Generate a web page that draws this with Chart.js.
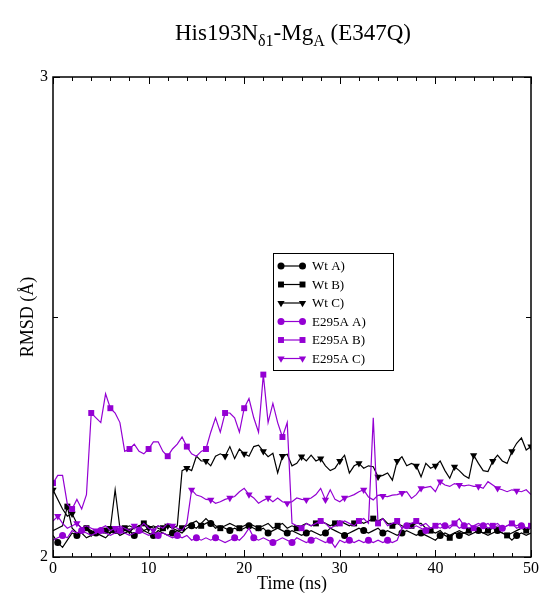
<!DOCTYPE html>
<html>
<head>
<meta charset="utf-8">
<script src="https://cdn.jsdelivr.net/npm/chart.js@4/dist/chart.umd.min.js"></script>
<style>
  html, body { margin: 0; padding: 0; background: #fff; }
  #wrap { position: relative; width: 541px; height: 595px; }
  #title { position: absolute; left: 53px; width: 480px; top: 20px; text-align: center;
           font-family: "Liberation Serif", "Times New Roman", serif; font-size: 23px; color: #000; }
  #title sub { font-size: 16px; vertical-align: -6px; line-height: 0; }
  canvas { position: absolute; left: 0; top: 0; }
</style>
</head>
<body>
<div id="wrap">
  <canvas id="c" width="541" height="595"></canvas>
  <div id="title">His193N<sub>δ1</sub>-Mg<sub>A</sub> (E347Q)</div>
</div>
<script>
// sampling grid (ns)
const STEP = 0.5;
const time = Array.from({length: 101}, (_, i) => i * STEP);

const seriesLabels = ["Wt A)", "Wt B)", "Wt C)", "E295A A)", "E295A B)", "E295A C)"];

const wtA = [2.045,2.03,2.02,2.035,2.05,2.045,2.05,2.04,2.045,2.05,
  2.045,2.04,2.05,2.055,2.045,2.05,2.055,2.045,2.05,2.055,
  2.05,2.045,2.055,2.05,2.045,2.05,2.055,2.05,2.06,2.065,
  2.06,2.07,2.08,2.07,2.06,2.065,2.06,2.055,2.06,2.055,
  2.06,2.065,2.06,2.055,2.06,2.05,2.055,2.06,2.055,2.05,
  2.055,2.05,2.045,2.05,2.055,2.05,2.045,2.05,2.06,2.055,
  2.05,2.045,2.05,2.055,2.06,2.055,2.05,2.055,2.06,2.05,
  2.055,2.05,2.045,2.05,2.055,2.05,2.045,2.05,2.045,2.04,
  2.035,2.045,2.05,2.045,2.05,2.045,2.05,2.045,2.05,2.055,
  2.05,2.045,2.05,2.055,2.05,2.045,2.035,2.045,2.05,2.045,2.05];

const wtB = [2.055,2.06,2.065,2.105,2.06,2.05,2.055,2.06,2.055,2.05,
  2.06,2.055,2.05,2.06,2.055,2.06,2.065,2.06,2.065,2.07,
  2.065,2.06,2.065,2.06,2.065,2.06,2.055,2.06,2.065,2.07,
  2.075,2.065,2.07,2.075,2.065,2.06,2.065,2.07,2.065,2.06,
  2.065,2.07,2.065,2.06,2.065,2.07,2.06,2.065,2.07,2.06,
  2.065,2.06,2.065,2.07,2.065,2.07,2.075,2.07,2.065,2.07,
  2.075,2.07,2.065,2.07,2.075,2.07,2.075,2.08,2.075,2.08,
  2.07,2.065,2.07,2.065,2.06,2.065,2.07,2.07,2.06,2.055,
  2.05,2.055,2.045,2.04,2.05,2.055,2.05,2.055,2.06,2.055,
  2.05,2.055,2.06,2.055,2.05,2.045,2.05,2.055,2.06,2.055,2.06];

const wtC = [2.14,2.12,2.10,2.085,2.09,2.07,2.06,2.065,2.05,2.055,
  2.06,2.05,2.06,2.14,2.06,2.05,2.055,2.06,2.065,2.055,
  2.06,2.065,2.06,2.055,2.065,2.06,2.065,2.18,2.185,2.18,
  2.21,2.20,2.20,2.19,2.21,2.215,2.21,2.23,2.205,2.225,
  2.215,2.21,2.23,2.233,2.22,2.209,2.216,2.175,2.21,2.214,
  2.19,2.195,2.209,2.20,2.212,2.20,2.205,2.19,2.18,2.185,
  2.20,2.212,2.175,2.19,2.195,2.185,2.19,2.188,2.167,2.17,
  2.175,2.16,2.20,2.209,2.19,2.195,2.19,2.167,2.195,2.185,
  2.19,2.20,2.18,2.164,2.188,2.18,2.17,2.164,2.212,2.195,
  2.18,2.178,2.20,2.212,2.20,2.195,2.22,2.237,2.248,2.223,2.23];

const e295aA = [2.035,2.04,2.045,2.04,2.055,2.05,2.055,2.05,2.045,2.05,
  2.055,2.05,2.045,2.05,2.055,2.05,2.045,2.05,2.055,2.05,
  2.045,2.05,2.045,2.05,2.045,2.04,2.045,2.04,2.045,2.035,
  2.04,2.035,2.04,2.035,2.04,2.035,2.03,2.035,2.04,2.035,
  2.045,2.06,2.04,2.035,2.04,2.035,2.03,2.035,2.04,2.035,
  2.03,2.04,2.035,2.03,2.035,2.04,2.035,2.03,2.035,2.02,
  2.035,2.03,2.035,2.03,2.035,2.03,2.035,2.03,2.035,2.03,
  2.035,2.03,2.035,2.06,2.065,2.06,2.065,2.06,2.055,2.06,
  2.065,2.06,2.065,2.06,2.07,2.08,2.065,2.06,2.065,2.07,
  2.065,2.07,2.06,2.065,2.06,2.065,2.07,2.06,2.065,2.06,2.065];

const e295aB = [2.154,2.17,2.17,2.11,2.10,2.12,2.10,2.13,2.30,2.29,
  2.28,2.34,2.31,2.30,2.28,2.22,2.225,2.235,2.22,2.215,
  2.225,2.24,2.24,2.22,2.21,2.225,2.235,2.25,2.23,2.215,
  2.21,2.22,2.225,2.26,2.29,2.26,2.30,2.30,2.29,2.26,
  2.31,2.33,2.29,2.26,2.38,2.28,2.32,2.28,2.25,2.28,
  2.07,2.065,2.06,2.07,2.065,2.07,2.075,2.07,2.06,2.065,
  2.07,2.075,2.07,2.065,2.075,2.08,2.07,2.29,2.07,2.08,
  2.065,2.07,2.075,2.06,2.065,2.07,2.075,2.065,2.07,2.06,
  2.065,2.07,2.06,2.065,2.07,2.06,2.065,2.07,2.06,2.065,
  2.07,2.06,2.065,2.07,2.06,2.065,2.07,2.065,2.07,2.06,2.065];

const e295aC = [2.075,2.085,2.07,2.06,2.065,2.07,2.06,2.065,2.06,2.055,
  2.06,2.065,2.055,2.06,2.065,2.06,2.055,2.065,2.06,2.07,
  2.06,2.055,2.065,2.06,2.07,2.065,2.06,2.055,2.07,2.14,
  2.129,2.126,2.12,2.119,2.112,2.115,2.12,2.123,2.126,2.136,
  2.143,2.13,2.123,2.112,2.118,2.123,2.115,2.123,2.115,2.112,
  2.115,2.123,2.12,2.119,2.123,2.13,2.143,2.119,2.14,2.12,
  2.115,2.123,2.126,2.13,2.136,2.14,2.125,2.119,2.129,2.127,
  2.126,2.129,2.13,2.133,2.136,2.122,2.13,2.143,2.145,2.147,
  2.136,2.157,2.15,2.147,2.153,2.15,2.148,2.15,2.147,2.147,
  2.143,2.157,2.15,2.143,2.14,2.136,2.14,2.138,2.136,2.14,2.13];

const xTickValues = [0, 10, 20, 30, 40, 50];
const yTickValues = [2, 3];

const BLACK = '#000000';
const VIOLET = '#9400d3';
const values = [wtA, wtB, wtC, e295aA, e295aB, e295aC];
const colors = [BLACK, BLACK, BLACK, VIOLET, VIOLET, VIOLET];
const styles = ['circle', 'rect', 'triangle', 'circle', 'rect', 'triangle'];
const radii = [3.5, 4.2, 4.2, 3.5, 4.2, 4.2];
const offsets = [1, 3, 0, 2, 0, 1];

const datasets = values.map((vals, i) => ({
  label: seriesLabels[i],
  data: time.map((t, k) => ({x: t, y: vals[k]})),
  borderColor: colors[i],
  backgroundColor: colors[i],
  borderWidth: 1.2,
  pointStyle: styles[i],
  pointRotation: styles[i] === 'triangle' ? 180 : 0,
  pointRadius: ctx => (ctx.dataIndex % 4 === offsets[i]) ? radii[i] : 0,
  pointHoverRadius: 0,
  pointBorderWidth: 0,
  tension: 0,
  order: 5 - i
}));

const SERIF = '"Liberation Serif", "Times New Roman", serif';

const framePlugin = {
  id: 'frame',
  afterDraw(chart) {
    const {ctx, chartArea: a, scales: {x, y}} = chart;
    ctx.save();
    ctx.strokeStyle = '#000';
    ctx.lineWidth = 1.5;
    ctx.strokeRect(a.left, a.top, a.right - a.left, a.bottom - a.top);
    ctx.lineWidth = 1;
    ctx.beginPath();
    for (let v = 0; v <= 50; v += 2) {
      const px = Math.round(x.getPixelForValue(v)) + 0.5;
      const len = (v % 10 === 0) ? 7 : 4;
      ctx.moveTo(px, a.bottom); ctx.lineTo(px, a.bottom - len);
      ctx.moveTo(px, a.top); ctx.lineTo(px, a.top + len);
    }
    [2, 2.5, 3].forEach(v => {
      const py = Math.round(y.getPixelForValue(v)) + 0.5;
      const len = (v === 2.5) ? 5 : 7;
      ctx.moveTo(a.left, py); ctx.lineTo(a.left + len, py);
      ctx.moveTo(a.right, py); ctx.lineTo(a.right - len, py);
    });
    ctx.stroke();

    // legend box
    const bx = 273.5, by = 253.5, bw = 120, bh = 117;
    ctx.fillStyle = '#fff';
    ctx.fillRect(bx, by, bw, bh);
    ctx.lineWidth = 1;
    ctx.strokeRect(bx, by, bw, bh);
    ctx.font = '13px ' + SERIF;
    ctx.textBaseline = 'middle';
    chart.data.datasets.forEach((ds, i) => {
      const ry = 266 + i * 18.5;
      ctx.strokeStyle = ds.borderColor;
      ctx.lineWidth = 1.2;
      ctx.beginPath();
      ctx.moveTo(281, ry); ctx.lineTo(302.5, ry);
      ctx.stroke();
      ctx.fillStyle = ds.backgroundColor;
      const opts = {pointStyle: ds.pointStyle, rotation: ds.pointRotation, radius: radii[i], borderWidth: 0};
      Chart.helpers.drawPoint(ctx, opts, 281, ry);
      Chart.helpers.drawPoint(ctx, opts, 302.5, ry);
      ctx.fillStyle = '#000';
      ctx.fillText(ds.label, 312, ry + 1);
    });
    ctx.restore();
  }
};

new Chart(document.getElementById('c'), {
  type: 'line',
  data: { datasets },
  options: {
    responsive: false,
    devicePixelRatio: 1,
    animation: false,
    parsing: true,
    layout: { padding: { top: 77, right: 8, left: 0, bottom: 0 } },
    plugins: { legend: { display: false }, tooltip: { enabled: false }, title: { display: false } },
    scales: {
      x: {
        type: 'linear', min: 0, max: 50,
        afterBuildTicks: s => { s.ticks = xTickValues.map(v => ({value: v})); },
        ticks: { font: { family: SERIF, size: 16 }, color: '#000', padding: 2, maxRotation: 0, autoSkip: false },
        grid: { display: false, drawTicks: false, tickLength: 0 },
        border: { display: false },
        title: { display: true, text: 'Time (ns)', font: { family: SERIF, size: 18 }, color: '#000', padding: { top: 0, bottom: 0 } },
        afterFit: s => { s.height = 38; }
      },
      y: {
        type: 'linear', min: 2, max: 3,
        afterBuildTicks: s => { s.ticks = yTickValues.map(v => ({value: v})); },
        ticks: { font: { family: SERIF, size: 16 }, color: '#000', padding: 5 },
        grid: { display: false, drawTicks: false, tickLength: 0 },
        border: { display: false },
        title: { display: true, text: 'RMSD (Å)', font: { family: SERIF, size: 18 }, color: '#000', padding: { top: 17, bottom: 0 } },
        afterFit: s => { s.width = 53; }
      }
    }
  },
  plugins: [framePlugin]
});
</script>
</body>
</html>
